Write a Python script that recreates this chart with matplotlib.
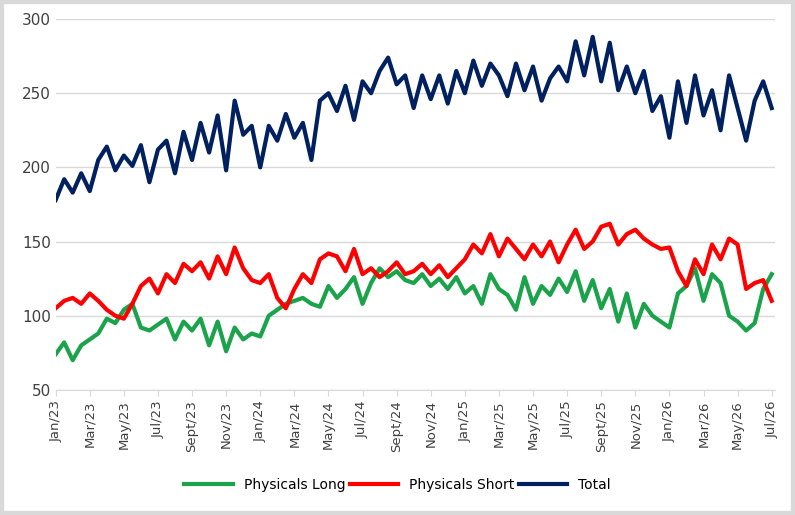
import numpy as np
import matplotlib.pyplot as plt
from matplotlib.patches import Rectangle

# semi-monthly values, Jan/23 .. Jul/26
total = [178, 192, 183, 196, 184, 205, 214, 198, 208, 201, 215, 190,
         212, 218, 196, 224, 205, 230, 210, 235, 198, 245, 222, 228,
         200, 228, 218, 236, 220, 230, 205, 245, 250, 238, 255, 232,
         258, 250, 265, 274, 256, 262, 240, 262, 246, 262, 243, 265,
         250, 272, 255, 270, 262, 248, 270, 252, 268, 245, 260, 268,
         258, 285, 262, 288, 258, 284, 252, 268, 250, 265, 238, 248,
         220, 258, 230, 262, 235, 252, 225, 262, 240, 218, 245, 258, 240]
short = [105, 110, 112, 108, 115, 110, 104, 100, 98, 108, 120, 125,
         115, 128, 122, 135, 130, 136, 125, 140, 128, 146, 132, 124,
         122, 128, 112, 105, 118, 128, 122, 138, 142, 140, 130, 145,
         128, 132, 126, 130, 136, 128, 130, 135, 128, 134, 126, 132,
         138, 148, 142, 155, 140, 152, 145, 138, 148, 140, 150, 136,
         148, 158, 145, 150, 160, 162, 148, 155, 158, 152, 148, 145,
         146, 130, 120, 138, 128, 148, 138, 152, 148, 118, 122, 124, 110]
long_ = [74, 82, 70, 80, 84, 88, 98, 95, 104, 108, 92, 90,
         94, 98, 84, 96, 90, 98, 80, 96, 76, 92, 84, 88,
         86, 100, 104, 108, 110, 112, 108, 106, 120, 112, 118, 126,
         108, 122, 132, 126, 130, 124, 122, 128, 120, 125, 118, 126,
         115, 120, 108, 128, 118, 114, 104, 126, 108, 120, 114, 125,
         116, 130, 110, 124, 105, 118, 96, 115, 92, 108, 100, 96,
         92, 115, 120, 132, 110, 128, 122, 100, 96, 90, 95, 118, 128]
tick_labels = ['Jan/23', 'Mar/23', 'May/23', 'Jul/23', 'Sept/23', 'Nov/23',
               'Jan/24', 'Mar/24', 'May/24', 'Jul/24', 'Sept/24', 'Nov/24',
               'Jan/25', 'Mar/25', 'May/25', 'Jul/25', 'Sept/25', 'Nov/25',
               'Jan/26', 'Mar/26', 'May/26', 'Jul/26']

x = np.arange(len(total)) * 0.5  # months since Jan/23

fig = plt.figure(figsize=(7.95, 5.15), dpi=100)
fig.patches.append(Rectangle((0, 0), 1, 1, transform=fig.transFigure,
                             facecolor='none', edgecolor='#d9d9d9', lw=6))
ax = fig.add_axes([0.07, 0.243, 0.905, 0.72])
ax.plot(x, long_, color='#1aa34a', lw=3, label='Physicals Long')
ax.plot(x, short, color='#ff0000', lw=3, label='Physicals Short')
ax.plot(x, total, color='#002060', lw=3, label='Total')
ax.set_ylim(50, 300)
ax.set_xlim(0, x[-1] + 0.2)
ax.set_yticks(range(50, 301, 50))
ax.set_xticks(np.arange(len(tick_labels)) * 2)
ax.set_xticklabels(tick_labels, rotation=90, fontsize=9.5, color='#404040')
ax.tick_params(axis='y', labelsize=11, length=0, colors='#404040')
ax.tick_params(axis='x', length=4, color='#d9d9d9')
ax.grid(axis='y', color='#d9d9d9', lw=1)
ax.set_axisbelow(True)
for s in ['top', 'right', 'left']:
    ax.spines[s].set_visible(False)
ax.spines['bottom'].set_color('#d9d9d9')
fig.legend(loc='lower center', ncol=3, frameon=False, fontsize=10,
           bbox_to_anchor=(0.5, 0.02), handlelength=3.5, columnspacing=0.3)
plt.savefig('out.png')
